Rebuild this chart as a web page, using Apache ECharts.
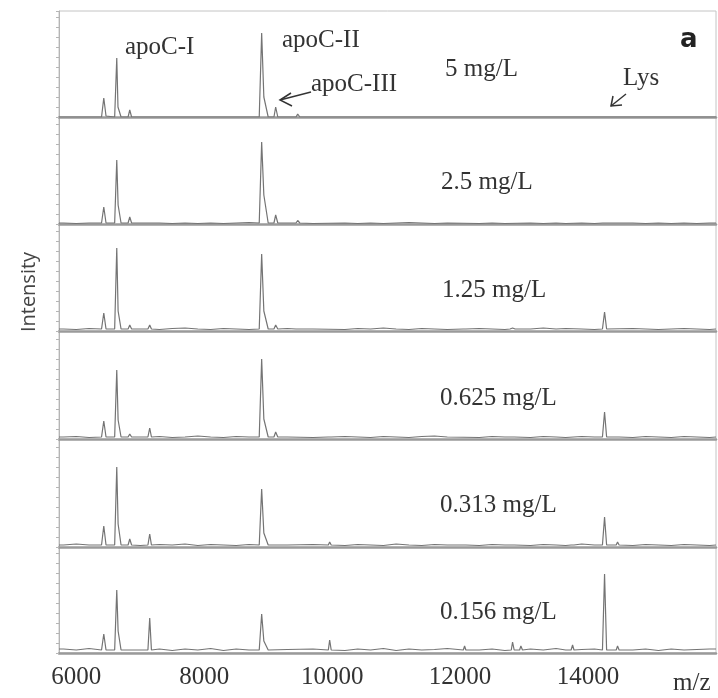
<!DOCTYPE html>
<html>
<head>
<meta charset="utf-8">
<script src="https://cdn.jsdelivr.net/npm/echarts@6/dist/echarts.min.js"></script>
<style>
  html, body { margin: 0; padding: 0; background: #fff; }
  #chart { width: 718px; height: 698px; }
</style>
</head>
<body>
<div id="chart"></div>
<script>
// m/z 轴刻度
const xTicks = [6000, 8000, 10000, 12000, 14000];
const concLabels = ['5 mg/L', '2.5 mg/L', '1.25 mg/L', '0.625 mg/L', '0.313 mg/L', '0.156 mg/L'];

// 基线噪声采样点（m/z）
const noiseMz = [5800, 6000, 6200, 7000, 7300, 7500, 7700, 7900, 8100, 8300, 8500, 8700, 9300, 9700,
  10200, 10400, 10600, 10800, 11000, 11200, 11400, 11600, 11800, 12300, 12500, 12700, 13100, 13300,
  13500, 13650, 13900, 14100, 14700, 14900, 15100, 15300, 15500, 15700, 15900];

// 每个浓度的基线噪声
const noise5 = [0, 0, 0, 0, 0, 0, 0, 0, 0, 0, 0, 0, 0, 0, 0, 0, 0, 0, 0, 0, 0, 0, 0, 0, 0, 0, 0, 0, 0, 0, 0, 0, 0, 0, 0, 0, 0, 0, 0];
const noise25 = [1, 0.5, 1, 0.5, 1, 0.5, 1, 0.5, 1, 0.5, 1, 1.5, 1, 0.5, 1, 0.5, 1, 0.5, 1, 1.5, 1, 0.5, 1, 0.5, 1, 0.5, 1, 0.5, 1, 0.5, 1, 0.5, 1, 0.5, 1, 0.5, 1, 0.5, 1];
const noise125 = [2, 1.5, 2.5, 2, 1.5, 2.5, 3, 2, 1.5, 2.5, 2, 1.5, 2.5, 2, 1.5, 2.5, 2, 3, 2, 1.5, 2.5, 2, 1.5, 2.5, 2, 1.5, 2, 3, 2, 2.5, 2, 1.5, 2.5, 2, 1.5, 2, 2.5, 2, 1.5];
const noise0625 = [2, 2.5, 1.5, 2, 2.5, 1.5, 2, 3, 2, 1.5, 2.5, 2, 2, 1.5, 2.5, 2, 1.5, 2.5, 2, 1.5, 2.5, 3, 2, 1.5, 2.5, 2, 1.5, 2.5, 2, 1.5, 2.5, 2, 1.5, 2.5, 2, 1.5, 2.5, 2, 1.5];
const noise0313 = [2, 3, 2, 1.5, 2.5, 2, 3, 1.5, 2.5, 2, 1.5, 2.5, 2, 2.5, 1.5, 2.5, 2, 1.5, 3, 2, 1.5, 2.5, 2, 1.5, 2.5, 2, 1.5, 2.5, 2, 1.5, 3, 2, 1.5, 2.5, 2, 1.5, 2.5, 2, 1.5];
const noise0156 = [4, 3, 4.5, 3, 4, 2.5, 4, 3, 4.5, 2.5, 4, 3, 3.5, 4, 2.5, 4, 3, 4.5, 2.5, 4, 3, 3.5, 4.5, 3, 4, 2.5, 4, 3, 4.5, 3, 3.5, 4, 3, 4, 2.5, 4, 3, 3.5, 4];

// 峰（m/z, 强度 px 单位）
const peaks5 = [[5730, 0], [6395, 0], [6430, 19], [6465, 1], [6600, 0], [6633, 59], [6652, 10], [6700, 0],
  [6810, 0], [6836, 7], [6865, 0], [8860, 0], [8898, 84], [8932, 20], [9000, 0],
  [9090, 0], [9117, 10], [9150, 0], [9435, 0], [9461, 3], [9495, 0], [16000, 0]];
const peaks25 = [[5730, 1], [6395, 1], [6430, 17], [6465, 1], [6600, 1], [6633, 64], [6654, 19], [6700, 1],
  [6810, 1], [6836, 7], [6865, 1], [6980, 1], [7010, 2.5], [7040, 1],
  [8860, 1], [8898, 82], [8932, 29], [9000, 1], [9090, 1], [9117, 9], [9150, 1], [9435, 1], [9461, 3.5], [9495, 1],
  [14230, 1], [14258, 3], [14285, 1], [16000, 1]];
const peaks125 = [[5730, 2], [6395, 2], [6430, 18], [6465, 2], [6600, 2], [6633, 83], [6654, 20], [6700, 2],
  [6810, 2], [6836, 6], [6865, 2], [7120, 2], [7148, 6], [7175, 2],
  [8860, 2], [8898, 77], [8932, 20], [9000, 2], [9090, 2], [9117, 6], [9150, 2], [9435, 2], [9461, 3], [9495, 2],
  [12050, 2], [12070, 3], [12090, 2], [12780, 2], [12820, 3], [12860, 2],
  [14225, 2], [14258, 19], [14290, 2], [16000, 2]];
const peaks0625 = [[5730, 2], [6395, 2], [6430, 18], [6465, 2], [6600, 2], [6633, 69], [6654, 19], [6700, 2],
  [6810, 2], [6836, 5], [6865, 2], [7120, 2], [7148, 11], [7175, 2],
  [8860, 2], [8898, 80], [8932, 20], [9000, 2], [9090, 2], [9117, 7], [9150, 2], [9940, 2], [9961, 4], [9985, 2],
  [12800, 2], [12820, 3.5], [12845, 2], [14225, 2], [14258, 27], [14290, 2], [14440, 2], [14461, 4], [14485, 2], [16000, 2]];
const peaks0313 = [[5730, 2], [6395, 2], [6430, 21], [6465, 2], [6600, 2], [6633, 80], [6654, 23], [6700, 2],
  [6810, 2], [6836, 8], [6865, 2], [7120, 2], [7148, 13], [7175, 2],
  [8860, 2], [8898, 58], [8932, 14], [9000, 2], [9090, 2], [9117, 4], [9150, 2], [9940, 2], [9961, 5], [9985, 2],
  [12050, 2], [12070, 4], [12090, 2], [12800, 2], [12820, 4], [12845, 2], [13735, 2], [13758, 4], [13780, 2],
  [14225, 2], [14258, 30], [14290, 2], [14440, 2], [14461, 5], [14485, 2], [16000, 2]];
const peaks0156 = [[5730, 4], [6395, 3], [6430, 19], [6465, 3], [6600, 3], [6633, 63], [6654, 22], [6700, 3],
  [7120, 3], [7148, 35], [7175, 3], [8860, 3], [8898, 39], [8932, 12], [9000, 3],
  [9940, 3], [9961, 13], [9985, 3], [12050, 3], [12070, 7], [12090, 3], [12800, 3], [12820, 11], [12845, 3],
  [12930, 3], [12950, 7], [12975, 3], [13735, 3], [13758, 8], [13780, 3],
  [14225, 3], [14258, 79], [14290, 3], [14440, 3], [14461, 7], [14485, 3], [16000, 4]];

const peakSets = [peaks5, peaks25, peaks125, peaks0625, peaks0313, peaks0156];
const noiseSets = [noise5, noise25, noise125, noise0625, noise0313, noise0156];

const panelTop = [11, 117, 224, 331, 439, 547];
const panelHeight = [106, 107, 107, 108, 108, 106];
const xMin = 5730, xMax = 16000;
const lineGray = '#747474';
const serif = 'Liberation Serif';

const chart = echarts.init(document.getElementById('chart'));

const grids = [], xAxes = [], yAxes = [], series = [];
panelTop.forEach((top, i) => {
  const last = i === panelTop.length - 1;
  grids.push({ left: 59, right: 2, top: top, height: panelHeight[i] });
  xAxes.push({
    type: 'value', gridIndex: i, min: xMin, max: xMax,
    axisLine: { show: true, lineStyle: { color: '#9a9a9a', width: 2.5 } },
    axisTick: { show: false },
    splitLine: { show: false },
    axisLabel: {
      show: last, customValues: xTicks, margin: 12,
      fontFamily: serif, fontSize: 25, color: '#333',
      formatter: (v) => String(v)
    }
  });
  yAxes.push({
    type: 'value', gridIndex: i, min: 0, max: panelHeight[i], interval: 10,
    axisLine: { show: true, lineStyle: { color: '#b5b5b5', width: 1 } },
    axisTick: { show: true, inside: false, length: 3, lineStyle: { color: '#b5b5b5' } },
    axisLabel: { show: false },
    splitLine: { show: false }
  });
  const pts = peakSets[i].concat(noiseMz.map((m, k) => [m, noiseSets[i][k]]));
  pts.sort((a, b) => a[0] - b[0]);
  series.push({
    type: 'line', xAxisIndex: i, yAxisIndex: i, data: pts,
    showSymbol: false, silent: true,
    lineStyle: { color: lineGray, width: 1.2 }
  });
});

const txt = (text, x, y, extra) => Object.assign({
  type: 'text', x: x, y: y, silent: true,
  style: Object.assign({
    text: text, fontFamily: serif, fontSize: 25, fill: '#333',
    textAlign: 'left', textVerticalAlign: 'middle', align: 'left', verticalAlign: 'middle'
  }, extra || {})
});

const concY = [69, 182, 290, 398, 505, 612];
const concX = [445, 441, 442, 440, 440, 440];

const graphics = [
  // 外框
  { type: 'rect', shape: { x: 59, y: 11, width: 657, height: 642 }, style: { fill: 'none', stroke: '#c4c4c4', lineWidth: 1 }, silent: true, z: -1 },
  txt('apoC-I', 125, 47),
  txt('apoC-II', 282, 40),
  txt('apoC-III', 311, 84),
  txt('Lys', 623, 78),
  txt('a', 680, 40, { fontFamily: 'DejaVu Sans', fontWeight: 'bold', fontSize: 26, fill: '#222' }),
  txt('m/z', 673, 683),
  {
    type: 'text', x: 29, y: 292, rotation: Math.PI / 2, silent: true,
    style: { text: 'Intensity', fontFamily: 'Open Sans', fontSize: 20, fill: '#444', textAlign: 'center', textVerticalAlign: 'middle', align: 'center', verticalAlign: 'middle' }
  },
  // apoC-III 箭头
  { type: 'polyline', shape: { points: [[311, 92], [280, 100]] }, style: { stroke: '#333', lineWidth: 1.5, fill: 'none' }, silent: true },
  { type: 'polyline', shape: { points: [[291, 93], [280, 100], [292, 106]] }, style: { stroke: '#333', lineWidth: 1.5, fill: 'none' }, silent: true },
  // Lys 箭头
  { type: 'polyline', shape: { points: [[626, 94], [611, 106]] }, style: { stroke: '#333', lineWidth: 1.5, fill: 'none' }, silent: true },
  { type: 'polyline', shape: { points: [[613, 96], [611, 106], [622, 105]] }, style: { stroke: '#333', lineWidth: 1.5, fill: 'none' }, silent: true }
];
concLabels.forEach((c, i) => graphics.push(txt(c, concX[i], concY[i])));

chart.setOption({
  animation: false,
  backgroundColor: '#fff',
  grid: grids,
  xAxis: xAxes,
  yAxis: yAxes,
  series: series,
  graphic: graphics
});
</script>
</body>
</html>
